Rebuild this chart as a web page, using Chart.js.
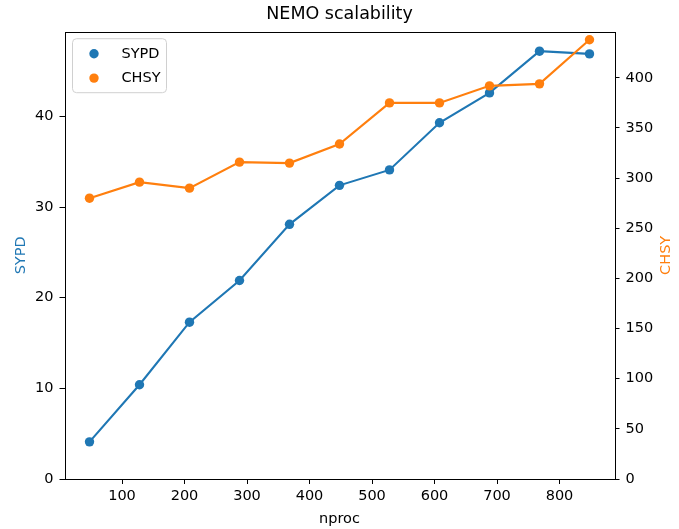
<!DOCTYPE html>
<html>
<head>
<meta charset="utf-8">
<script src="https://cdn.jsdelivr.net/npm/chart.js@4.4.0/dist/chart.umd.min.js"></script>
<style>
  body { margin: 0; background: #fff; }
  #wrap { width: 679px; height: 529px; }
</style>
</head>
<body>
<div id="wrap"><canvas id="nemo-chart" width="679" height="529"></canvas></div>
<script>
// nproc values and the two measured series
const nproc = [48, 128, 208, 288, 368, 448, 528, 608, 688, 768, 848];
const sypd = [4.1, 10.4, 17.3, 21.9, 28.1, 32.4, 34.1, 39.3, 42.6, 47.2, 46.9];
const chsy = [280, 296, 290, 316, 315, 334, 375, 375, 392, 394, 438];

// tick labels
const xTicks = [100, 200, 300, 400, 500, 600, 700, 800];
const sypdTicks = [0, 10, 20, 30, 40];
const chsyTicks = [0, 50, 100, 150, 200, 250, 300, 350, 400];

const blue = "#1f77b4";
const orange = "#ff7f0e";
const font = "'DejaVu Sans', sans-serif";

function points(ys) {
  return nproc.map(function (x, i) { return { x: x, y: ys[i] }; });
}

function fixedTicks(values) {
  return function (scale) {
    scale.ticks = values.map(function (v) { return { value: v }; });
  };
}

// matplotlib-like frame, right label and legend inside the axes
var framePlugin = {
  id: "frame",
  afterDatasetsDraw: function (chart) {
    var ctx = chart.ctx;
    var a = chart.chartArea;
    ctx.save();
    ctx.strokeStyle = "#000";
    ctx.lineWidth = 1;
    ctx.strokeRect(Math.round(a.left) + 0.5, Math.round(a.top) + 0.5,
      Math.round(a.right - a.left), Math.round(a.bottom - a.top));

    // right axis label, reading upwards like matplotlib
    ctx.save();
    ctx.translate(666.5, (a.top + a.bottom) / 2);
    ctx.rotate(-Math.PI / 2);
    ctx.font = "14.5px " + font;
    ctx.fillStyle = orange;
    ctx.textAlign = "center";
    ctx.textBaseline = "middle";
    ctx.fillText("CHSY", 0, 0);
    ctx.restore();

    // legend box
    var x = a.left + 8, y = a.top + 7, w = 94, h = 54, r = 4;
    ctx.beginPath();
    ctx.moveTo(x + r, y);
    ctx.arcTo(x + w, y, x + w, y + h, r);
    ctx.arcTo(x + w, y + h, x, y + h, r);
    ctx.arcTo(x, y + h, x, y, r);
    ctx.arcTo(x, y, x + w, y, r);
    ctx.closePath();
    ctx.fillStyle = "rgba(255,255,255,0.8)";
    ctx.fill();
    ctx.strokeStyle = "#d0d0d0";
    ctx.stroke();

    ctx.font = "14.5px " + font;
    ctx.textBaseline = "middle";
    chart.data.datasets.forEach(function (ds, i) {
      var cy = y + 15 + i * 24.4;
      ctx.beginPath();
      ctx.arc(x + 21.5, cy, 4.7, 0, Math.PI * 2);
      ctx.fillStyle = ds.borderColor;
      ctx.fill();
      ctx.fillStyle = "#000";
      ctx.fillText(ds.label, x + 49, cy + 0.5);
    });
    ctx.restore();
  }
};

var tickFont = { family: font, size: 14.5 };

new Chart(document.getElementById("nemo-chart"), {
  type: "line",
  data: {
    datasets: [
      {
        label: "SYPD",
        data: points(sypd),
        yAxisID: "y",
        borderColor: blue,
        backgroundColor: blue,
        pointBackgroundColor: blue,
        pointBorderWidth: 0,
        pointRadius: 4.7,
        borderWidth: 2.1,
        tension: 0,
        order: 1
      },
      {
        label: "CHSY",
        data: points(chsy),
        yAxisID: "y2",
        borderColor: orange,
        backgroundColor: orange,
        pointBackgroundColor: orange,
        pointBorderWidth: 0,
        pointRadius: 4.7,
        borderWidth: 2.1,
        tension: 0,
        order: 0
      }
    ]
  },
  options: {
    responsive: false,
    animation: false,
    layout: { padding: 0 },
    plugins: {
      legend: { display: false },
      tooltip: { enabled: false },
      title: {
        display: true,
        text: "NEMO scalability",
        color: "#000",
        font: { family: font, size: 17.5, weight: "normal", lineHeight: 1.2 },
        padding: { top: 4, bottom: 6.7 }
      }
    },
    scales: {
      x: {
        type: "linear",
        bounds: "data",
        min: 8,
        max: 888,
        afterBuildTicks: fixedTicks(xTicks),
        afterFit: function (s) { s.height = 50; },
        grid: { drawOnChartArea: false, drawTicks: true, tickLength: 5, color: "#000" },
        border: { display: false },
        ticks: { color: "#000", font: tickFont, padding: 4, maxRotation: 0, autoSkip: false },
        title: { display: true, text: "nproc", color: "#000", font: tickFont, padding: { top: 0, bottom: 1 } }
      },
      y: {
        type: "linear",
        position: "left",
        bounds: "data",
        min: 0,
        max: 49.35,
        afterBuildTicks: fixedTicks(sypdTicks),
        afterFit: function (s) { s.width = 64.5; },
        grid: { drawOnChartArea: false, drawTicks: true, tickLength: 5, color: "#000" },
        border: { display: false },
        ticks: { color: "#000", font: tickFont, padding: 6, autoSkip: false },
        title: { display: true, text: "SYPD", color: blue, font: tickFont, padding: { top: 13, bottom: 0 } }
      },
      y2: {
        type: "linear",
        position: "right",
        bounds: "data",
        min: 0,
        max: 446,
        afterBuildTicks: fixedTicks(chsyTicks),
        afterFit: function (s) { s.width = 64.5; },
        grid: { drawOnChartArea: false, drawTicks: true, tickLength: 5, color: "#000" },
        border: { display: false },
        ticks: { color: "#000", font: tickFont, padding: 6, autoSkip: false }
      }
    }
  },
  plugins: [framePlugin]
});
</script>
</body>
</html>
